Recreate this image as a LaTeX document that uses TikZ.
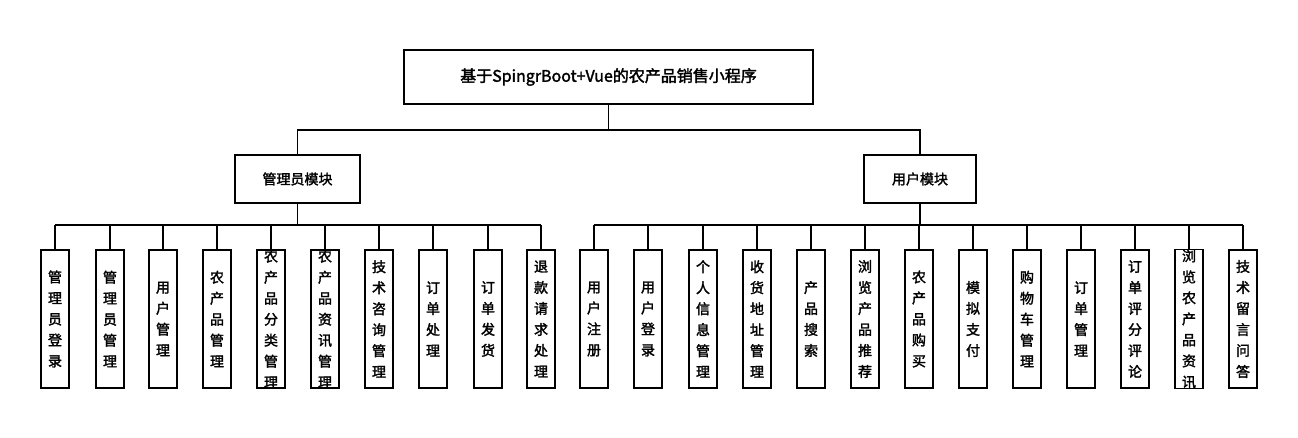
\documentclass[tikz,border=0pt]{standalone}
\usepackage{fontspec}
\setmainfont{Noto Sans CJK SC}[AutoFakeBold=2]
\XeTeXlinebreaklocale "zh"
\XeTeXlinebreakskip=0pt plus 1pt
\begin{document}
\begin{tikzpicture}[x=1pt,y=-1pt,
 box/.style={draw,line width=1.6pt,inner sep=0pt,font=\bfseries\fontsize{14}{21}\selectfont},
 leaf/.style={box,minimum width=28pt,minimum height=138pt,text width=14pt,align=center},
 ln/.style={line width=1.6pt}]
\useasboundingbox (0,0) rectangle (1298,438);
\node[box,minimum width=409pt,minimum height=54pt,font=\bfseries\fontsize{16}{20}\selectfont] (top) at (608.5,77) {基于SpingrBoot+Vue的农产品销售小程序};
\node[box,minimum width=125pt,minimum height=48pt] (adm) at (297.5,179) {管理员模块};
\node[box,minimum width=112pt,minimum height=48pt] (usr) at (920,179) {用户模块};
\draw[ln] (top.south) -- (608.5,130);
\draw[ln] (adm.north) -- (297.5,130) -- (920,130) -- (usr.north);
\foreach \x/\t [count=\i] in {55/管理员登录,110/管理员管理,163/用户管理,217/农产品管理,271/农产品分类管理,325/农产品资讯管理,379/技术咨询管理,433/订单处理,488/订单发货,541/退款请求处理}{
 \node[leaf] (a\i) at (\x,319) {\t};
 \draw[ln] (a\i.north) -- (\x,225);
}
\draw[ln] (55,225) -- (541,225);
\draw[ln] (adm.south) -- (297.5,225);
\foreach \x/\t [count=\i] in {594/用户注册,648/用户登录,703/个人信息管理,757/收货地址管理,811/产品搜索,865/浏览产品推荐,919/农产品购买,973/模拟支付,1027/购物车管理,1081/订单管理,1135/订单评分评论,1189/浏览农产品资讯,1243/技术留言问答}{
 \node[leaf] (u\i) at (\x,319) {\t};
 \draw[ln] (u\i.north) -- (\x,225);
}
\draw[ln] (594,225) -- (1243,225);
\draw[ln] (usr.south) -- (920,225);
\end{tikzpicture}
\end{document}
